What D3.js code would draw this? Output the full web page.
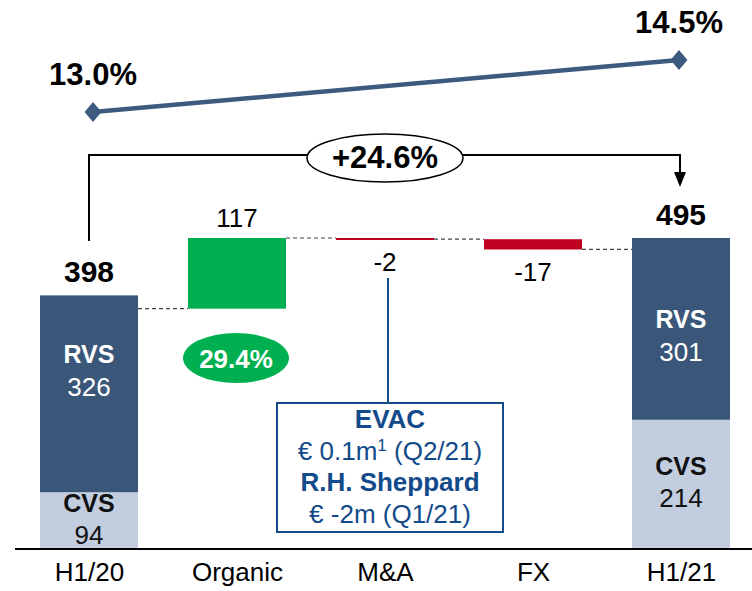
<!DOCTYPE html>
<html lang="en">
<head>
  <meta charset="UTF-8">
  <title>Sales bridge H1/20 - H1/21</title>
  <script src="https://cdn.jsdelivr.net/npm/d3@7"></script>
  <style>
    body { margin: 0; background: #fff; }
    text { font-family: 'Liberation Sans', Arial, sans-serif; }
  </style>
</head>
<body>
  <script>
    // categories on the x axis
    var categories = ["H1/20", "Organic", "M&A", "FX", "H1/21"];
    // stacked segments of the two total bars
    var cvsValues = [94, 214];
    var rvsValues = [326, 301];
    var totalLabels = [398, 495];
    // bridge steps between the totals
    var stepCats = ["Organic", "M&A", "FX"];
    var stepValues = [117, -2, -17];
    // margin line on top
    var marginCats = ["H1/20", "H1/21"];
    var marginValues = [13.0, 14.5];
    var growthLabel = "+24.6%";
    var organicLabel = "29.4%";
    // callout text: each line is a list of [text, superscript?]
    var calloutLines = [
      { bold: true, parts: [["EVAC", false]] },
      { bold: false, parts: [["€ 0.1m", false], ["1", true], [" (Q2/21)", false]] },
      { bold: true, parts: [["R.H. Sheppard", false]] },
      { bold: false, parts: [["€ -2m (Q1/21)", false]] }
    ];

    var width = 752, height = 591;
    var darkBlue = "#3a5779", lightBlue = "#c2cee0", green = "#00b050",
        red = "#c00020", calloutBlue = "#134a8a", lineBlue = "#3d5a80";

    var svg = d3.select("body").append("svg")
      .attr("width", width)
      .attr("height", height);

    var x = d3.scalePoint().domain(categories).range([15, 755]).padding(0.5);
    var barW = 98;
    var y = d3.scaleLinear().domain([0, 515]).range([549, 238]);
    var yPct = d3.scaleLinear().domain([13.0, 14.5]).range([112, 60]);

    // total bars (stacked)
    var totals = [
      { cat: "H1/20", cvs: cvsValues[0], rvs: rvsValues[0], label: totalLabels[0], shift: -30 },
      { cat: "H1/21", cvs: cvsValues[1], rvs: rvsValues[1], label: totalLabels[1], shift: 0 }
    ];

    var tg = svg.selectAll(".total").data(totals).enter().append("g").attr("class", "total");
    tg.append("rect")
      .attr("x", function(d) { return x(d.cat) - barW / 2; })
      .attr("width", barW)
      .attr("y", function(d) { return y(d.cvs); })
      .attr("height", function(d) { return y(0) - y(d.cvs); })
      .attr("fill", lightBlue);
    tg.append("rect")
      .attr("x", function(d) { return x(d.cat) - barW / 2; })
      .attr("width", barW)
      .attr("y", function(d) { return y(d.cvs + d.rvs); })
      .attr("height", function(d) { return y(d.cvs) - y(d.cvs + d.rvs); })
      .attr("fill", darkBlue);

    function rvsMid(d) { return (y(d.cvs) + y(d.cvs + d.rvs)) / 2 + d.shift; }
    function cvsMid(d) { return (y(0) + y(d.cvs)) / 2; }

    tg.append("text")
      .attr("x", function(d) { return x(d.cat); })
      .attr("y", function(d) { return rvsMid(d) - 1; })
      .attr("text-anchor", "middle").attr("font-size", 25).attr("font-weight", "bold")
      .attr("fill", "#fff").text("RVS");
    tg.append("text")
      .attr("x", function(d) { return x(d.cat); })
      .attr("y", function(d) { return rvsMid(d) + 32; })
      .attr("text-anchor", "middle").attr("font-size", 26)
      .attr("fill", "#fff").text(function(d) { return d.rvs; });
    tg.append("text")
      .attr("x", function(d) { return x(d.cat); })
      .attr("y", function(d) { return cvsMid(d) - 9; })
      .attr("text-anchor", "middle").attr("font-size", 25).attr("font-weight", "bold")
      .attr("fill", "#111").text("CVS");
    tg.append("text")
      .attr("x", function(d) { return x(d.cat); })
      .attr("y", function(d) { return cvsMid(d) + 23; })
      .attr("text-anchor", "middle").attr("font-size", 26)
      .attr("fill", "#111").text(function(d) { return d.cvs; });
    tg.append("text")
      .attr("x", function(d) { return x(d.cat); })
      .attr("y", function(d) { return y(d.cvs + d.rvs) - 13; })
      .attr("text-anchor", "middle").attr("font-size", 30).attr("font-weight", "bold")
      .attr("fill", "#000").text(function(d) { return d.label; });

    // bridge steps
    var running = totalLabels[0];
    var steps = stepCats.map(function(c, i) {
      var s = { cat: c, v: stepValues[i], from: running, to: running + stepValues[i] };
      running = s.to;
      return s;
    });
    var prevLevel = [totalLabels[0]].concat(steps.map(function(s) { return s.to; }));

    // dashed connectors
    var connCats = categories.slice(0, 4);
    svg.selectAll(".conn").data(connCats).enter().append("line")
      .attr("x1", function(c) { return x(c) + barW / 2; })
      .attr("x2", function(c, i) { return x(categories[i + 1]) - barW / 2; })
      .attr("y1", function(c, i) { return y(prevLevel[i]); })
      .attr("y2", function(c, i) { return y(prevLevel[i]); })
      .attr("stroke", "#444").attr("stroke-width", 1.2).attr("stroke-dasharray", "4,3");

    svg.selectAll(".step").data(steps).enter().append("rect")
      .attr("x", function(d) { return x(d.cat) - barW / 2; })
      .attr("width", barW)
      .attr("y", function(d) { return y(Math.max(d.from, d.to)); })
      .attr("height", function(d) { return Math.max(2, Math.abs(y(d.from) - y(d.to))); })
      .attr("fill", function(d) { return d.v > 0 ? green : red; });

    svg.selectAll(".stepLabel").data(steps).enter().append("text")
      .attr("x", function(d) { return x(d.cat); })
      .attr("y", function(d) { return d.v > 0 ? y(d.to) - 11 : y(d.to) + 32; })
      .attr("text-anchor", "middle").attr("font-size", 26).attr("fill", "#000")
      .text(function(d) { return d.v; });

    // organic growth bubble
    svg.append("ellipse")
      .attr("cx", x("Organic") - 1).attr("cy", 358).attr("rx", 53).attr("ry", 25)
      .attr("fill", green);
    svg.append("text")
      .attr("x", x("Organic") - 1).attr("y", 368)
      .attr("text-anchor", "middle").attr("font-size", 26).attr("font-weight", "bold")
      .attr("fill", "#fff").text(organicLabel);

    // M&A callout
    var cx = x("M&A") + 3;
    svg.append("line")
      .attr("x1", cx).attr("x2", cx).attr("y1", 278).attr("y2", 403)
      .attr("stroke", calloutBlue).attr("stroke-width", 2);
    svg.append("rect")
      .attr("x", 277).attr("y", 403).attr("width", 226).attr("height", 129)
      .attr("fill", "#fff").attr("stroke", calloutBlue).attr("stroke-width", 2);
    var ct = svg.selectAll(".callout").data(calloutLines).enter().append("text")
      .attr("x", 390).attr("y", function(d, i) { return 428 + i * 31.5; })
      .attr("text-anchor", "middle").attr("font-size", 26)
      .attr("font-weight", function(d) { return d.bold ? "bold" : "normal"; })
      .attr("fill", calloutBlue);
    ct.selectAll("tspan").data(function(d) { return d.parts; }).enter().append("tspan")
      .attr("font-size", function(p) { return p[1] ? 17 : null; })
      .attr("dy", function(p, i, nodes) {
        if (p[1]) return -9;
        var prev = i > 0 ? d3.select(nodes[i - 1]).datum() : null;
        return prev && prev[1] ? 9 : null;
      })
      .text(function(p) { return p[0]; });

    // growth bracket
    var bx1 = x("H1/20"), bx2 = x("H1/21") - 1, by = 155;
    svg.append("path")
      .attr("d", "M" + bx1 + "," + 241 + "V" + by + "H" + bx2 + "V" + 174)
      .attr("fill", "none").attr("stroke", "#000").attr("stroke-width", 2);
    svg.append("path")
      .attr("d", "M" + (bx2 - 6) + ",172L" + (bx2 + 6) + ",172L" + bx2 + ",187Z")
      .attr("fill", "#000");
    svg.append("ellipse")
      .attr("cx", 385).attr("cy", 158).attr("rx", 78).attr("ry", 24)
      .attr("fill", "#fff").attr("stroke", "#000").attr("stroke-width", 1.5);
    svg.append("text")
      .attr("x", 385).attr("y", 168)
      .attr("text-anchor", "middle").attr("font-size", 31).attr("font-weight", "bold")
      .attr("fill", "#000").text(growthLabel);

    // margin line
    var pts = marginCats.map(function(c, i) { return [x(c) + (i ? -2 : 4), yPct(marginValues[i])]; });
    svg.append("path")
      .attr("d", d3.line()(pts))
      .attr("fill", "none").attr("stroke", lineBlue).attr("stroke-width", 4.5);
    svg.selectAll(".diamond").data(pts).enter().append("path")
      .attr("d", "M0,-10L8.5,0L0,10L-8.5,0Z")
      .attr("transform", function(p) { return "translate(" + p + ")"; })
      .attr("fill", lineBlue);
    svg.selectAll(".pctLabel").data(pts).enter().append("text")
      .attr("x", function(p) { return p[0]; })
      .attr("y", function(p) { return p[1] - 27; })
      .attr("text-anchor", "middle").attr("font-size", 31).attr("font-weight", "bold")
      .attr("fill", "#000").text(function(p, i) { return marginValues[i].toFixed(1) + "%"; });

    // x axis
    var axis = svg.append("g").attr("transform", "translate(0," + y(0) + ")")
      .call(d3.axisBottom(x).tickSize(0).tickPadding(18));
    axis.select(".domain").attr("d", "M15,0H752").attr("stroke", "#000").attr("stroke-width", 2);
    axis.selectAll("text")
      .attr("font-size", 26).attr("fill", "#000").attr("dy", "0.55em")
      .style("font-family", "'Liberation Sans', Arial, sans-serif");
  </script>
</body>
</html>
